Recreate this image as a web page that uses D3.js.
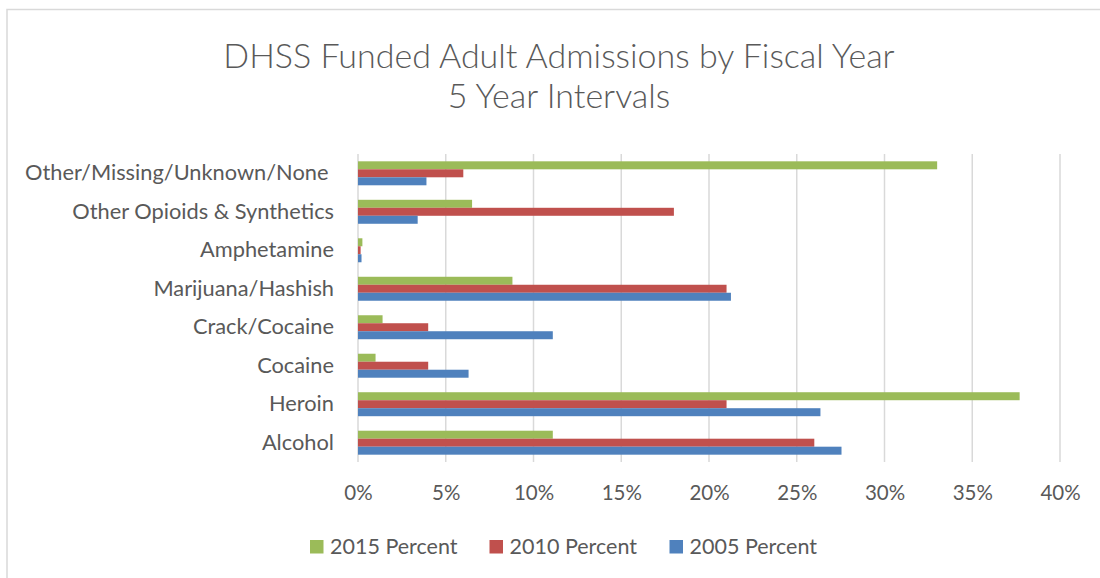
<!DOCTYPE html>
<html>
<head>
<meta charset="utf-8">
<script src="https://cdn.jsdelivr.net/npm/d3@7"></script>
<style>
  body { margin: 0; background: #fff; }
  text { font-family: Lato, "Open Sans", sans-serif; fill: #595959; }
</style>
</head>
<body>
<svg id="chart" width="1100" height="578"></svg>
<script>
// categories, top to bottom as in the chart
const categories = ["Other/Missing/Unknown/None ", "Other Opioids & Synthetics", "Amphetamine",
    "Marijuana/Hashish", "Crack/Cocaine", "Cocaine", "Heroin", "Alcohol"];
const seriesNames = ["2015 Percent", "2010 Percent", "2005 Percent"];
const seriesColors = ["#9BBB59", "#C0504D", "#4F81BD"];

// values in percent, same order as categories
const pct2015 = [33.0, 6.5, 0.25, 8.8, 1.4, 1.0, 37.7, 11.1];
const pct2010 = [6.0, 18.0, 0.15, 21.0, 4.0, 4.0, 21.0, 26.0];
const pct2005 = [3.9, 3.4, 0.2, 21.25, 11.1, 6.3, 26.35, 27.55];
const xTicks = [0, 5, 10, 15, 20, 25, 30, 35, 40];

const series = [pct2015, pct2010, pct2005];

const svg = d3.select("#chart");
const plot = { left: 358, right: 1060, top: 154, bottom: 462 };

// chart frame (only top and left edges show in the picture)
svg.append("path")
    .attr("d", "M7,578 V9.5 H1100")
    .attr("fill", "none")
    .attr("stroke", "#d9d9d9")
    .attr("stroke-width", 1.5);

// title
const title = svg.append("text")
    .attr("text-anchor", "middle")
    .attr("font-size", 34)
    .attr("font-weight", 300);
title.append("tspan").attr("x", 559).attr("y", 68).text("DHSS Funded Adult Admissions by Fiscal Year");
title.append("tspan").attr("x", 559).attr("y", 108).text("5 Year Intervals");

const x = d3.scaleLinear().domain([0, 40]).range([plot.left, plot.right]);
const y = d3.scaleBand().domain(categories).range([plot.top, plot.bottom]).paddingInner(0.377).paddingOuter(0.19);
const ySub = d3.scaleBand().domain(seriesNames).range([0, y.bandwidth()]);

// gridlines
svg.append("g").selectAll("line")
    .data(xTicks)
    .join("line")
    .attr("x1", d => x(d)).attr("x2", d => x(d))
    .attr("y1", plot.top).attr("y2", plot.bottom)
    .attr("stroke", "#d9d9d9")
    .attr("stroke-width", 1.5);

// bars
const groups = svg.append("g").selectAll("g")
    .data(categories)
    .join("g")
    .attr("transform", d => `translate(0,${y(d)})`);

groups.selectAll("rect")
    .data((c, i) => series.map((s, k) => ({ name: seriesNames[k], value: s[i], color: seriesColors[k] })))
    .join("rect")
    .attr("x", x(0))
    .attr("y", d => ySub(d.name))
    .attr("width", d => x(d.value) - x(0))
    .attr("height", ySub.bandwidth())
    .attr("fill", d => d.color);

// category labels
const yAxis = d3.axisLeft(y).tickSize(0).tickPadding(24);
const yg = svg.append("g").attr("transform", `translate(${plot.left},0)`).call(yAxis);
yg.select(".domain").remove();
yg.selectAll("text")
    .attr("font-size", 21.8)
    .attr("fill", "#595959")
    .style("font-family", "Lato, 'Open Sans', sans-serif")
    .style("white-space", "pre");

// value axis labels
const xAxis = d3.axisBottom(x).tickValues(xTicks).tickFormat(d => d + "%").tickSize(0).tickPadding(23);
const xg = svg.append("g").attr("transform", `translate(0,${plot.bottom})`).call(xAxis);
xg.select(".domain").remove();
xg.selectAll("text")
    .attr("font-size", 20.5)
    .attr("fill", "#595959")
    .style("font-family", "Lato, 'Open Sans', sans-serif");

// legend
const legendX = [310, 489.5, 669.5];
const legend = svg.append("g").selectAll("g")
    .data(seriesNames)
    .join("g")
    .attr("transform", (d, i) => `translate(${legendX[i]},540)`);
legend.append("rect")
    .attr("width", 13.5).attr("height", 13.5)
    .attr("fill", (d, i) => seriesColors[i]);
legend.append("text")
    .attr("x", 20).attr("y", 14)
    .attr("font-size", 21.5)
    .text(d => d);
</script>
</body>
</html>
